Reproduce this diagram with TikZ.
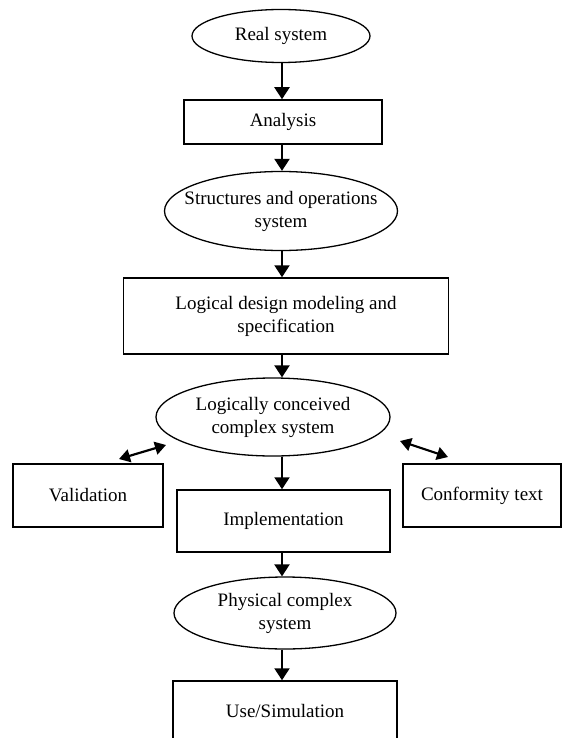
\documentclass[tikz,border=0pt]{standalone}
\usepackage{fontspec}
\setmainfont{Liberation Serif}
\usetikzlibrary{shapes,arrows.meta}
\tikzset{%
  block/.style    = {draw, rectangle, line width=1.5pt, inner sep=0pt,
    align=center},
  oval/.style     = {draw, ellipse, line width=1.3pt, inner ysep=0pt,
    inner xsep=-20pt, align=center}, % state of the system
  flow/.style     = {line width=2.2pt, -{Triangle[length=12pt,width=15pt]}},
  both/.style     = {line width=2.2pt,
    {Triangle[length=11pt,width=13pt]}-{Triangle[length=11pt,width=13pt]}}
}

\begin{document}
\begin{tikzpicture}[x=1pt, y=-1pt, font=\fontsize{19}{23}\selectfont]
\useasboundingbox (0,0) rectangle (562,738);
\coordinate (spine) at (282,0);
\draw
	node at(281,36)[oval, name=RealSys, minimum width=178pt, minimum height=53pt]{Real system}
	node at(283,122)[block, name=Analysis, minimum width=198pt, minimum height=44pt]{Analysis}
	node at(281,211)[oval, name=StructSys, minimum width=233pt, minimum height=79pt]{Structures and operations\\system}
	node at(286,316)[block, name=LogicDesign, minimum width=325pt, minimum height=76pt]{Logical design modeling and\\specification}
	node at(273,417)[oval, name=LogicSys, minimum width=234pt, minimum height=78pt]{Logically conceived\\complex system};
\draw
	node at(88,495.5)[block, name=Validation, minimum width=150pt, minimum height=63pt]{Validation}
	node at(283.5,521)[block, name=Implement, minimum width=213pt, minimum height=62pt]{Implementation}
	node at(482,495.5)[block, name=Conformity, minimum width=158pt, minimum height=63pt]{Conformity text}
	node at(285,613)[oval, name=PhysSys, minimum width=222pt, minimum height=72pt]{Physical complex\\system}
	node at(285,711)[block, name=UseSim, minimum width=224pt, minimum height=60pt]{Use/Simulation};
\coordinate (ValEnd) at (119,459);
\coordinate (ValStart) at (166,445);
\coordinate (ConfStart) at (400,441);
\coordinate (ConfEnd) at (448,457);
	\draw[flow](RealSys.south -| spine) -- (Analysis.north -| spine);
	\draw[flow](Analysis.south -| spine) -- (StructSys.north -| spine);
	\draw[flow](StructSys.south -| spine) -- (LogicDesign.north -| spine);
	\draw[flow](LogicDesign.south -| spine) -- (LogicSys.north -| spine);
	\draw[flow](LogicSys.south -| spine) -- (Implement.north -| spine);
	\draw[flow](Implement.south -| spine) -- (PhysSys.north -| spine);
	\draw[flow](PhysSys.south -| spine) -- (UseSim.north -| spine);
	\draw[both](ValStart) -- (ValEnd);
	\draw[both](ConfStart) -- (ConfEnd);
\end{tikzpicture}
\end{document}
